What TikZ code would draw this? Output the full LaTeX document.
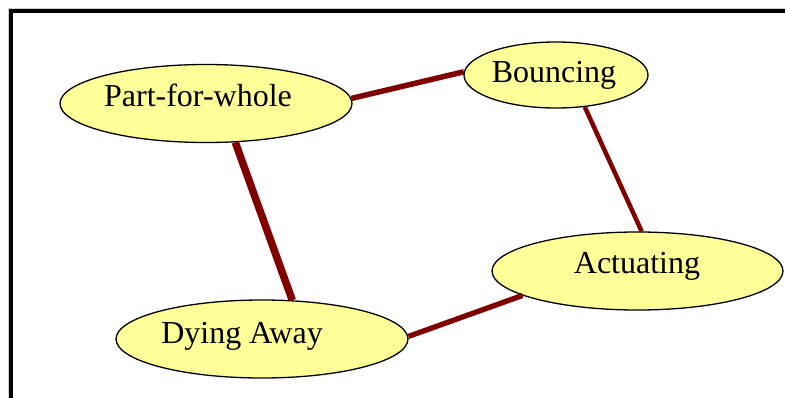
\documentclass[tikz,border=0pt]{standalone}
\usepackage{fontspec}
\setmainfont{Liberation Serif}
\usetikzlibrary{shapes.geometric}
\definecolor{nodefill}{HTML}{FFFF99}
\definecolor{edgecol}{HTML}{800000}
\tikzset{
  ell/.style={ellipse, draw=black, line width=1.3pt, fill=nodefill, inner sep=0pt},
  lbl/.style={anchor=base, inner sep=0pt, font=\fontsize{32}{38}\selectfont},
  edge/.style={draw=edgecol, line cap=butt},
}
\begin{document}
\begin{tikzpicture}[x=1pt,y=-1pt]
\useasboundingbox (0,0) rectangle (785,397);
\clip (0,0) rectangle (785,397);
\fill[white] (0,0) rectangle (785,397);
% frame
\draw[color=black!18, line width=1pt] (8,420) -- (8,8) -- (800,8);
\draw[black, line width=4pt] (11.3,420) -- (11.3,11.3) -- (800,11.3);
% nodes
\node[ell, minimum width=292pt, minimum height=78pt] (pw) at (206,103.5) {};
\node[ell, minimum width=184pt, minimum height=66pt] (bo) at (556,75) {};
\node[ell, minimum width=291pt, minimum height=78pt] (ac) at (637.5,271) {};
\node[ell, minimum width=292pt, minimum height=78pt] (da) at (262,339) {};
\node[lbl] (pwt) at (198,106) {Part-for-whole};
\node[lbl] (bot) at (554,82) {Bouncing};
\node[lbl] (act) at (637,273.5) {Actuating};
\node[lbl] (dat) at (242,343) {Dying Away};
% edges
\draw[edge, line width=5.5pt] (pw.2.4) -- (bo.178.8);
\draw[edge, line width=7.5pt] (pw.-53.1) -- (da.52);
\draw[edge, line width=4.5pt] (bo.-48.8) -- (ac.84);
\draw[edge, line width=5.3pt] (da.1.2) -- (ac.-168.1);
\end{tikzpicture}
\end{document}
